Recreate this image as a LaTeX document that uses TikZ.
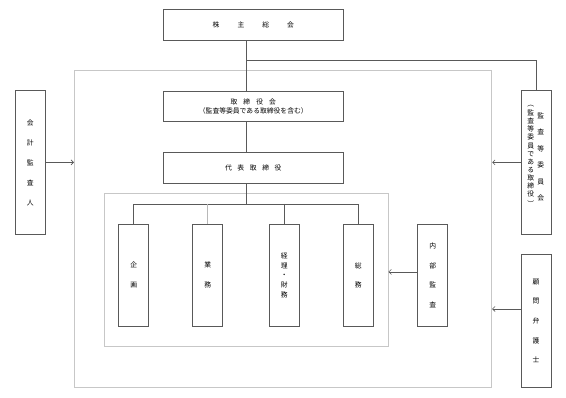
\documentclass[tikz,border=0pt]{standalone}
\usepackage{fontspec}
\newfontfamily\jp{Noto Sans CJK JP}
\usetikzlibrary{arrows.meta}
\definecolor{boxline}{gray}{0.35}
\definecolor{frameline}{gray}{0.78}
\definecolor{lightline}{gray}{0.72}
\begin{document}
\begin{tikzpicture}[x=1pt,y=-1pt,
 box/.style={draw=boxline, line width=0.8pt, inner sep=0pt, align=center, font=\jp\fontsize{6.8}{9.3}\selectfont},
 frame/.style={draw=frameline, line width=0.9pt, inner sep=0pt},
 conn/.style={draw=boxline, line width=0.8pt},
 arr/.style={conn, -{Straight Barb[length=2.5pt,width=5pt,line width=0.6pt]}},
 vbox/.style={box, minimum width=30pt, font=\jp\fontsize{6.8}{20}\selectfont},
 vtext/.style={inner sep=0pt, align=center},
]
\useasboundingbox[fill=white] (0,0) rectangle (566,398);
% frames
\node[frame, minimum width=417.3pt, minimum height=316.6pt] (outer) at (283.05,229) {};
\node[frame, minimum width=283.7pt, minimum height=153pt] (inner) at (246.15,269.5) {};
% main column
\node[box, minimum width=180pt, minimum height=31.4pt] (kabu) at (253.3,25) {株\hspace{18pt}主\hspace{18pt}総\hspace{18pt}会};
\node[box, minimum width=180pt, minimum height=30.7pt] (tori) at (253.3,106.4) {取\hspace{6pt}締\hspace{6pt}役\hspace{6pt}会\\（監査等委員である取締役を含む）};
\node[box, minimum width=180pt, minimum height=31pt] (daihyo) at (253.3,167.8) {代\hspace{5.6pt}表\hspace{5.6pt}取\hspace{5.6pt}締\hspace{5.6pt}役};
% side boxes
\node[vbox, minimum height=143.3pt] (kaikei) at (30.2,162.4) {会\\計\\監\\査\\人};
\node[box, minimum width=30pt, minimum height=143.3pt] (kansa) at (536,162.4) {};
\node[vtext, font=\jp\fontsize{6.8}{16.5}\selectfont] (kansaR) at (540.7,157) {監\\査\\等\\委\\員\\会};
\node[vtext, font=\jp\fontsize{6.8}{8.1}\selectfont] (kansaL) at (530.7,156) {︵\\[1pt]監\\査\\等\\委\\員\\で\\あ\\る\\取\\締\\役\\[2pt]︶};
\node[vbox, minimum height=133pt, font=\jp\fontsize{6.8}{19.7}\selectfont] (komon) at (536,320.8) {顧\\問\\弁\\護\\士};
% departments
\node[vbox, minimum height=102.3pt] (kikaku) at (133.7,275.15) {企\\画};
\node[vbox, minimum height=102.3pt] (gyomu) at (207.7,275.15) {業\\務};
\node[vbox, minimum height=102.3pt, font=\jp\fontsize{6.8}{9.7}\selectfont] (keiri) at (284.3,275.15) {経\\理\\・\\財\\務};
\node[vbox, minimum height=102.3pt, font=\jp\fontsize{6.8}{19.3}\selectfont] (somu) at (358.3,275.15) {総\\務};
\node[vbox, minimum height=102.3pt, font=\jp\fontsize{6.8}{19.5}\selectfont] (naibu) at (432.7,275.15) {内\\部\\監\\査};
% connectors
\coordinate (top) at (246,60.7);
\coordinate (br) at (246,204);
\draw[conn] (kabu.south -| top) -- (tori.north -| top);
\draw[conn] (top) -| (kansa.north);
\draw[conn] (tori.south -| top) -- (daihyo.north -| top);
\draw[conn] (daihyo.south -| top) -- (br);
\draw[conn] (kikaku.north) -- (kikaku.north |- br) -- (somu.north |- br) -- (somu.north);
\draw[conn] (keiri.north |- br) -- (keiri.north);
\draw[conn, draw=lightline] (gyomu.north |- br) -- (gyomu.north);
% arrows
\draw[arr] (kaikei.east) -- (kaikei.east -| outer.west);
\draw[arr] (kansa.west) -- (kansa.west -| outer.east);
\coordinate (kA) at ([shift={(0,-11.8)}]komon.west);
\draw[arr] (kA) -- (kA -| outer.east);
\coordinate (nA) at ([shift={(0,-3.2)}]naibu.west);
\draw[arr] (nA) -- (nA -| inner.east);
\end{tikzpicture}
\end{document}
